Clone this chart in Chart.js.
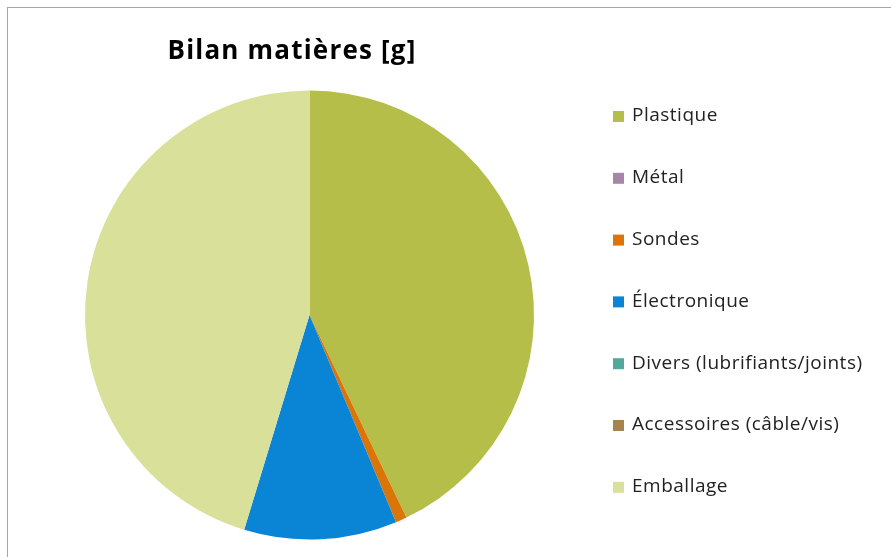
<!DOCTYPE html>
<html>
<head>
<meta charset="utf-8">
<script src="https://cdn.jsdelivr.net/npm/chart.js@4"></script>
<style>
  html, body { margin: 0; padding: 0; background: #fff; }
  #wrap { width: 891px; height: 557px; }
</style>
</head>
<body>
<div id="wrap"><canvas id="pie" width="891" height="557"></canvas></div>
<script>
const chartTitle = 'Bilan matières [g]';
const categories = ['Plastique', 'Métal', 'Sondes', 'Électronique', 'Divers (lubrifiants/joints)', 'Accessoires (câble/vis)', 'Emballage'];
const grams = [429, 0, 8, 110, 0, 0, 453];
const colors = ['#B5BE48', '#A585A8', '#DB7508', '#0A85D6', '#52A89D', '#A9834E', '#D8E099'];

// excel-like frame, title and legend drawn by hand
const decor = {
  id: 'decor',
  afterDraw(chart) {
    const ctx = chart.ctx;
    ctx.save();
    ctx.strokeStyle = '#A6A6A6';
    ctx.lineWidth = 1;
    ctx.strokeRect(7.5, 7.5, 900, 600);

    ctx.fillStyle = '#000';
    ctx.font = 'bold 26px "Open Sans"';
    ctx.letterSpacing = '1.2px';
    ctx.textAlign = 'center';
    ctx.textBaseline = 'middle';
    ctx.fillText(chartTitle, 292, 52);

    ctx.font = '19px "Open Sans"';
    ctx.letterSpacing = '0.5px';
    ctx.textAlign = 'left';
    categories.forEach((c, i) => {
      const y = 116 + i * 61.8;
      ctx.fillStyle = colors[i];
      ctx.fillRect(613, y - 5, 11, 11);
      ctx.fillStyle = '#222';
      ctx.fillText(c, 632, y);
    });
    ctx.restore();
  }
};

new Chart(document.getElementById('pie'), {
  type: 'pie',
  data: {
    labels: categories,
    datasets: [{
      data: grams,
      backgroundColor: colors,
      borderWidth: 0
    }]
  },
  options: {
    responsive: false,
    animation: false,
    layout: {
      padding: { left: 85, top: 90, right: 357, bottom: 17 }
    },
    plugins: {
      legend: { display: false },
      tooltip: { enabled: false }
    }
  },
  plugins: [decor]
});
</script>
</body>
</html>
